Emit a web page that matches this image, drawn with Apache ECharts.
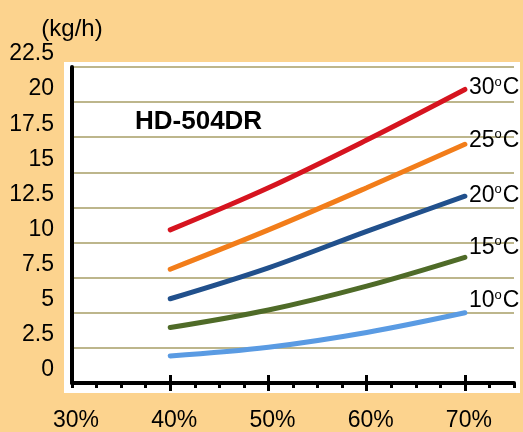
<!DOCTYPE html>
<html>
<head>
<meta charset="utf-8">
<script src="https://cdn.jsdelivr.net/npm/echarts@6/dist/echarts.min.js"></script>
<style>html,body{margin:0;padding:0;}#c{width:523px;height:432px;}</style>
</head>
<body>
<div id="c"></div>
<script>
// ---- data ----
const humidity = [40, 50, 60, 70];            // % relative humidity
const t30 = [10.9, 13.9, 17.3, 20.9];
const t25 = [8.1, 10.9, 13.9, 17.0];
const t20 = [6.0, 8.2, 10.8, 13.3];
const t15 = [3.95, 5.2, 6.9, 8.95];
const t10 = [1.93, 2.55, 3.6, 5.0];
const tempNames = ['30', '25', '20', '15', '10'];
const xTickLabels = [30, 40, 50, 60, 70];
const xMajorTicks = [40, 50, 60, 70];
const modelName = 'HD-504DR';
const unitName = '(kg/h)';

// ---- styles ----
const FONT = 'Liberation Sans, Arial, sans-serif';
const colors = ['#D6141F', '#F27D1A', '#21508C', '#4F6B28', '#5A9BE3'];
const labelOffsets = [[0, -2], [0, -4], [0, -1], [0, -10], [0, -12]];
const seriesValues = [t30, t25, t20, t15, t10];

const chart = echarts.init(document.getElementById('c'));

const series = seriesValues.map((vals, i) => ({
  name: tempNames[i] + '°C',
  type: 'line',
  data: humidity.map((h, j) => [h, vals[j]]),
  smooth: 0.35,
  showSymbol: false,
  lineStyle: { color: colors[i], width: 5, cap: 'round' },
  itemStyle: { color: colors[i] },
  z: 5,
  endLabel: {
    show: true,
    distance: 4,
    offset: labelOffsets[i],
    formatter: () => tempNames[i] + '{o|o}C',
    color: '#000',
    fontFamily: FONT,
    fontSize: 23,
    lineHeight: 24,
    rich: {
      o: { fontSize: 13, lineHeight: 13, verticalAlign: 'top', color: '#000', fontFamily: FONT, padding: [0, 1, 0, 0] }
    }
  }
}));

chart.setOption({
  backgroundColor: '#FCD38E',
  animation: false,
  title: {
    text: modelName, left: 135, top: 109, padding: 0,
    textStyle: { fontSize: 26, fontWeight: 'bold', color: '#000', fontFamily: FONT }
  },
  graphic: [{
    type: 'rect', z: -10,
    shape: { x: 64, y: 62, width: 456, height: 331 },
    style: { fill: '#ffffff' }
  }],
  grid: { left: 72, right: 9, top: 67, bottom: 49 },
  xAxis: [{
    type: 'value', min: 30, max: 75, interval: 2.5,
    axisLine: { show: true, lineStyle: { color: '#000', width: 4 } },
    axisTick: { show: true, length: 5, lineStyle: { color: '#000', width: 3 } },
    axisLabel: {
      customValues: xTickLabels, formatter: v => v + '%',
      fontSize: 23, color: '#000', fontFamily: FONT, margin: 26, padding: [0, 0, 0, 8]
    },
    splitLine: { show: false }
  }, {
    type: 'value', min: 30, max: 75, position: 'bottom', offset: -8,
    axisLine: { show: false },
    axisTick: { show: true, customValues: xMajorTicks, length: 16, lineStyle: { color: '#000', width: 3 } },
    axisLabel: { show: false },
    splitLine: { show: false }
  }],
  yAxis: {
    type: 'value', min: 0, max: 22.5, interval: 2.5,
    name: unitName, nameLocation: 'end', nameGap: 23,
    nameTextStyle: { fontSize: 24, color: '#000', fontFamily: FONT },
    axisLine: { show: true, lineStyle: { color: '#000', width: 4 } },
    axisTick: { show: false },
    axisLabel: { fontSize: 23, color: '#000', fontFamily: FONT, margin: 18, verticalAlign: 'bottom', lineHeight: 26 },
    splitLine: { show: true, lineStyle: { color: '#BDB68C', width: 2 } }
  },
  series: series
});
</script>
</body>
</html>
